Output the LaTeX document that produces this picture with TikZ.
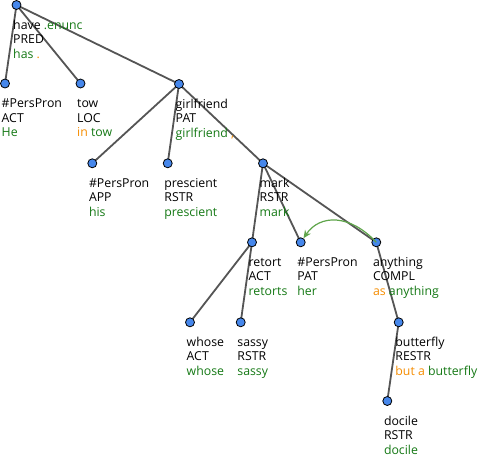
\documentclass[tikz,border=0pt]{standalone}
\usepackage{fontspec}
\setmainfont{Open Sans}
\usetikzlibrary{calc,arrows.meta}
\definecolor{tgreen}{RGB}{20,120,20}
\definecolor{torange}{RGB}{245,140,0}
\definecolor{tblue}{RGB}{70,135,235}
\definecolor{tedge}{RGB}{85,85,85}
\definecolor{tarrow}{RGB}{95,165,75}
\tikzset{
  tnode/.style={circle,draw=black,fill=tblue,line width=0.8pt,minimum size=9pt,inner sep=0pt},
  tedge/.style={draw=tedge,line width=1.8pt},
  lbl/.style={anchor=base west,inner sep=0pt,font=\fontsize{12.3}{14}\selectfont},
}
\newcommand\tl[4]{%
  \node[lbl] (#1-1) at ($(#1)+(-3.5,24)$) {#2};
  \node[lbl] (#1-2) at ($(#1)+(-3.5,38.5)$) {#3};
  \node[lbl] (#1-3) at ($(#1)+(-3.5,53)$) {#4};}
\newcommand\Gw[1]{\textcolor{tgreen}{#1}}
\newcommand\Ow[1]{\textcolor{torange}{#1}}
\begin{document}
\begin{tikzpicture}[x=1pt,y=-1pt]
\useasboundingbox (0,0) rectangle (478,458);
\coordinate (root) at (16.5,5);
\coordinate (act) at (5,83.5);
\coordinate (tow) at (80.5,83.5);
\coordinate (gf) at (179,84);
\coordinate (app) at (92.3,163.3);
\coordinate (pre) at (167.7,163.3);
\coordinate (mark) at (263,163.3);
\coordinate (ret) at (252,242.3);
\coordinate (pat) at (300.7,242.3);
\coordinate (any) at (376.3,242.3);
\coordinate (who) at (190,322.3);
\coordinate (sas) at (240.7,322.3);
\coordinate (but) at (398.7,322.3);
\coordinate (doc) at (387.3,401);
% edges
\draw[tedge] (root) -- (act);
\draw[tedge] (root) -- (tow);
\draw[tedge] (root) -- (gf);
\draw[tedge] (gf) -- (app);
\draw[tedge] (gf) -- (pre);
\draw[tedge] (gf) -- (mark);
\draw[tedge] (mark) -- (ret);
\draw[tedge] (mark) -- (pat);
\draw[tedge] (mark) -- (any);
\draw[tedge] (ret) -- (who);
\draw[tedge] (ret) -- (sas);
\draw[tedge] (any) -- (but);
\draw[tedge] (but) -- (doc);
% labels
\tl{root}{have \Gw{.enunc}}{PRED}{\Gw{has} \Ow{.}}
\tl{act}{\#PersPron}{ACT}{\Gw{He}}
\tl{tow}{tow}{LOC}{\Ow{in} \Gw{tow}}
\tl{gf}{girlfriend}{PAT}{\Gw{girlfriend} \Ow{,}}
\tl{app}{\#PersPron}{APP}{\Gw{his}}
\tl{pre}{prescient}{RSTR}{\Gw{prescient}}
\tl{mark}{mark}{RSTR}{\Gw{mark}}
\tl{ret}{retort}{ACT}{\Gw{retorts}}
\tl{pat}{\#PersPron}{PAT}{\Gw{her}}
\tl{any}{anything}{COMPL}{\Ow{as} \Gw{anything}}
\tl{who}{whose}{ACT}{\Gw{whose}}
\tl{sas}{sassy}{RSTR}{\Gw{sassy}}
\tl{but}{butterfly}{RESTR}{\Ow{but a} \Gw{butterfly}}
\tl{doc}{docile}{RSTR}{\Gw{docile}}
% circles
\foreach \n in {root,act,tow,gf,app,pre,mark,ret,pat,any,who,sas,but,doc}
  \node[tnode] (\n-c) at (\n) {};
% coreference arrow
\draw[tarrow,line width=1.2pt,-{Stealth[length=8pt,width=7pt]}] (any-c.center) .. controls (350,214) and (320,214) .. (pat-c);
\end{tikzpicture}
\end{document}
